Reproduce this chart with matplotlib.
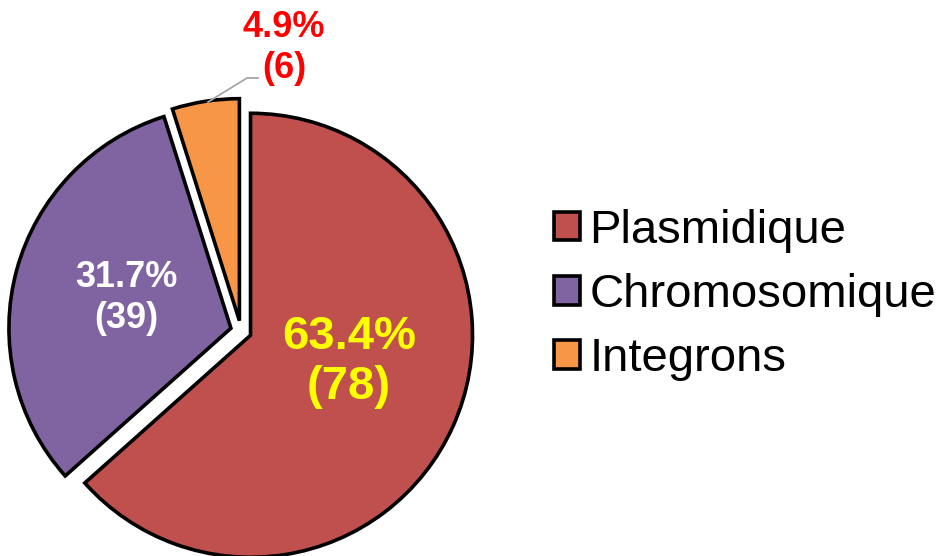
import matplotlib
matplotlib.use("Agg")
import matplotlib.pyplot as plt

categories = ["Plasmidique", "Chromosomique", "Integrons"]
counts = [78, 39, 6]
colors = ["#C0504D", "#8064A2", "#F79646"]
label_colors = ["#FFFF00", "#FFFFFF", "#FF0000"]

plt.rcParams["font.family"] = ["Liberation Sans", "DejaVu Sans"]

W, H = 943, 556
fig = plt.figure(figsize=(W / 100, H / 100), dpi=100)
ax = fig.add_axes([0, 0, 1, 1])

# pie geometry in pixel terms, converted to unit-radius data space
CX, CY, R = 241, 331, 222


def px(x, y):
    return (x - CX) / R, (CY - y) / R


total = sum(counts)
wedges, _ = ax.pie(
    counts,
    colors=colors,
    startangle=90,
    counterclock=False,
    explode=[0.047] * len(counts),
    radius=1.0,
    wedgeprops=dict(edgecolor="black", linewidth=2.6, joinstyle="miter"),
)

ax.set_xlim(px(0, 0)[0], px(W, 0)[0])
ax.set_ylim(px(0, H)[1], px(0, 0)[1])
ax.set_aspect("equal")
ax.axis("off")

# value labels
label_pos = [(349, 362), (126, 298), (284, 48)]
label_size = [34, 26, 26]
for v, c, pos, fs in zip(counts, label_colors, label_pos, label_size):
    ax.text(*px(*pos), f"{100 * v / total:.1f}%\n({v})", color=c,
            fontsize=fs, fontweight="bold", ha="center", va="center",
            linespacing=1.2)

# leader line for the small slice
lx, ly = zip(px(208, 102), px(247, 78), px(258, 78))
ax.plot(lx, ly, color="#A6A6A6", linewidth=1.3)

ax.legend(wedges, categories, loc="center left",
          bbox_to_anchor=(554 / W, (H - 295) / H), bbox_transform=fig.transFigure,
          frameon=False, fontsize=34, handlelength=0.55, handleheight=0.55,
          handletextpad=0.2, labelspacing=0.43, borderpad=0, borderaxespad=0)

fig.savefig("out.png", dpi=100)
